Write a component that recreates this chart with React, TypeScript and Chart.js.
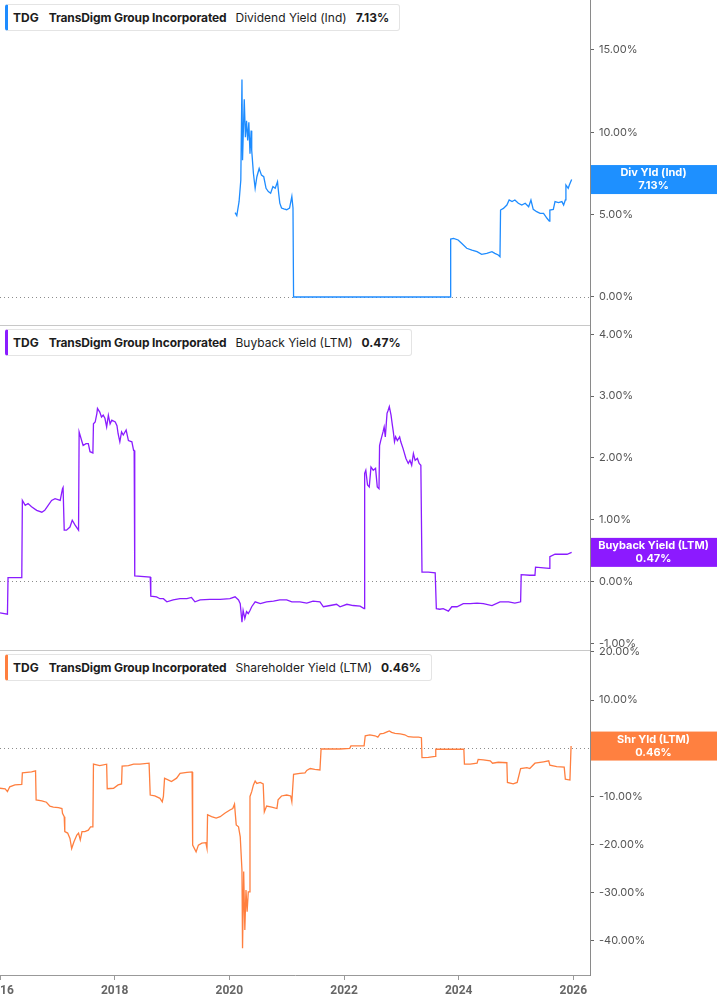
import { useEffect, useRef } from "react";
import { Chart, registerables } from "chart.js";

Chart.register(...registerables);

// decimal years on the x axis
const divDates = [
  2020.10, 2020.13, 2020.17, 2020.20, 2020.22, 2020.23, 2020.26, 2020.28, 2020.30, 2020.32,
  2020.34, 2020.36, 2020.38, 2020.39, 2020.42, 2020.45, 2020.48, 2020.52, 2020.56, 2020.60,
  2020.64, 2020.68, 2020.72, 2020.76, 2020.80, 2020.84, 2020.86, 2020.88, 2020.91, 2020.95,
  2021.00, 2021.05, 2021.09, 2021.11, 2021.12, 2023.85, 2023.86, 2023.91, 2023.99, 2024.05,
  2024.14, 2024.23, 2024.32, 2024.40, 2024.49, 2024.58, 2024.63, 2024.69, 2024.72, 2024.73,
  2024.78, 2024.84, 2024.88, 2024.93, 2024.98, 2025.04, 2025.10, 2025.16, 2025.22, 2025.26,
  2025.30, 2025.36, 2025.42, 2025.48, 2025.54, 2025.58, 2025.59, 2025.65, 2025.68, 2025.74,
  2025.80, 2025.83, 2025.86, 2025.87, 2025.91, 2025.93, 2025.97,
];
const divValues = [
  5.12, 4.94, 5.8, 7.1, 13.2, 8.3, 12.0, 9.7, 10.7, 9.5,
  10.6, 8.7, 10.1, 8.9, 7.5, 6.6, 7.3, 7.8, 7.4, 7.3,
  6.6, 6.4, 6.3, 6.7, 6.6, 7.0, 6.3, 5.7, 5.4, 5.35,
  5.3, 5.4, 6.1, 5.4, 0, 0, 3.52, 3.56, 3.46, 3.26,
  2.96, 2.85, 2.75, 2.59, 2.65, 2.75, 2.65, 2.55, 2.45, 5.28,
  5.38, 5.58, 5.89, 5.79, 5.89, 5.69, 5.58, 5.69, 5.48, 5.89,
  5.32, 5.18, 5.08, 5.08, 4.78, 4.61, 5.28, 5.32, 5.79, 5.73,
  5.79, 5.58, 5.89, 6.8, 6.6, 6.8, 7.13,
];

const buybackDates = [
  2016.00, 2016.13, 2016.14, 2016.38, 2016.39, 2016.44, 2016.49, 2016.55, 2016.64, 2016.73,
  2016.78, 2016.84, 2016.90, 2016.96, 2017.05, 2017.09, 2017.10, 2017.12, 2017.16, 2017.22,
  2017.26, 2017.31, 2017.37, 2017.38, 2017.43, 2017.45, 2017.50, 2017.54, 2017.57, 2017.62,
  2017.63, 2017.66, 2017.69, 2017.70, 2017.74, 2017.77, 2017.80, 2017.83, 2017.86, 2017.89,
  2017.92, 2017.95, 2018.01, 2018.04, 2018.06, 2018.09, 2018.12, 2018.15, 2018.20, 2018.24,
  2018.30, 2018.33, 2018.34, 2018.35, 2018.62, 2018.63, 2018.73, 2018.79, 2018.85, 2018.91,
  2019.02, 2019.14, 2019.26, 2019.34, 2019.40, 2019.49, 2019.66, 2019.84, 2020.01, 2020.10,
  2020.16, 2020.19, 2020.22, 2020.24, 2020.27, 2020.30, 2020.33, 2020.36, 2020.39, 2020.45,
  2020.54, 2020.65, 2020.77, 2020.88, 2021.00, 2021.09, 2021.23, 2021.35, 2021.46, 2021.58,
  2021.64, 2021.76, 2021.87, 2021.93, 2022.05, 2022.16, 2022.28, 2022.35, 2022.36, 2022.38,
  2022.41, 2022.44, 2022.47, 2022.51, 2022.55, 2022.58, 2022.61, 2022.62, 2022.64, 2022.68,
  2022.70, 2022.72, 2022.75, 2022.77, 2022.79, 2022.82, 2022.84, 2022.86, 2022.88, 2022.90,
  2022.93, 2022.97, 2022.99, 2023.03, 2023.08, 2023.12, 2023.15, 2023.18, 2023.21, 2023.24,
  2023.28, 2023.31, 2023.34, 2023.36, 2023.47, 2023.59, 2023.61, 2023.67, 2023.73, 2023.82,
  2023.88, 2023.97, 2024.08, 2024.20, 2024.32, 2024.43, 2024.58, 2024.72, 2024.87, 2024.98,
  2025.08, 2025.09, 2025.24, 2025.33, 2025.34, 2025.48, 2025.58, 2025.59, 2025.68, 2025.80,
  2025.89, 2025.97,
];
const buybackValues = [
  -0.51, -0.53, 0.06, 0.06, 1.31, 1.23, 1.26, 1.21, 1.15, 1.12,
  1.15, 1.23, 1.31, 1.34, 1.31, 1.50, 1.52, 0.83, 0.83, 0.88,
  0.99, 0.91, 0.83, 2.42, 2.26, 2.20, 2.23, 2.23, 2.10, 2.08,
  2.55, 2.58, 2.72, 2.80, 2.74, 2.66, 2.69, 2.64, 2.50, 2.69,
  2.55, 2.61, 2.58, 2.52, 2.39, 2.26, 2.42, 2.37, 2.45, 2.28,
  2.26, 2.12, 2.12, 0.09, 0.07, -0.24, -0.25, -0.28, -0.28, -0.33,
  -0.30, -0.28, -0.28, -0.26, -0.33, -0.30, -0.29, -0.29, -0.28, -0.25,
  -0.30, -0.36, -0.66, -0.47, -0.60, -0.49, -0.52, -0.47, -0.41, -0.33,
  -0.36, -0.33, -0.32, -0.30, -0.30, -0.33, -0.33, -0.35, -0.32, -0.33,
  -0.41, -0.39, -0.37, -0.41, -0.37, -0.39, -0.40, -0.44, 1.75, 1.80,
  1.56, 1.53, 1.85, 1.80, 1.83, 1.53, 1.50, 2.20, 2.28, 2.42,
  2.50, 2.34, 2.72, 2.77, 2.83, 2.69, 2.55, 2.42, 2.26, 2.34,
  2.28, 2.34, 2.26, 2.15, 1.99, 1.91, 1.96, 1.88, 2.07, 1.96,
  1.99, 1.91, 1.88, 0.15, 0.15, 0.14, -0.44, -0.45, -0.44, -0.48,
  -0.41, -0.41, -0.36, -0.36, -0.35, -0.36, -0.39, -0.33, -0.33, -0.35,
  -0.33, 0.11, 0.10, 0.10, 0.23, 0.22, 0.21, 0.40, 0.44, 0.44,
  0.44, 0.47,
];

const shrDates = [
  2016.00, 2016.09, 2016.13, 2016.17, 2016.26, 2016.38, 2016.39, 2016.47, 2016.55, 2016.62,
  2016.63, 2016.73, 2016.81, 2016.87, 2016.93, 2017.02, 2017.08, 2017.09, 2017.12, 2017.13,
  2017.18, 2017.22, 2017.25, 2017.29, 2017.34, 2017.37, 2017.40, 2017.43, 2017.48, 2017.54,
  2017.58, 2017.62, 2017.63, 2017.74, 2017.86, 2017.87, 2017.98, 2018.06, 2018.12, 2018.13,
  2018.24, 2018.33, 2018.44, 2018.60, 2018.62, 2018.70, 2018.79, 2018.83, 2018.85, 2018.87,
  2018.94, 2018.99, 2019.08, 2019.14, 2019.26, 2019.35, 2019.36, 2019.42, 2019.46, 2019.52,
  2019.59, 2019.61, 2019.62, 2019.69, 2019.77, 2019.84, 2019.92, 2020.01, 2020.06, 2020.09,
  2020.12, 2020.16, 2020.19, 2020.22, 2020.23, 2020.25, 2020.27, 2020.29, 2020.31, 2020.33,
  2020.35, 2020.36, 2020.39, 2020.42, 2020.45, 2020.48, 2020.54, 2020.59, 2020.61, 2020.65,
  2020.74, 2020.83, 2020.85, 2020.91, 2021.00, 2021.07, 2021.09, 2021.12, 2021.23, 2021.32,
  2021.35, 2021.41, 2021.49, 2021.58, 2021.60, 2021.93, 2022.10, 2022.12, 2022.35, 2022.37,
  2022.45, 2022.54, 2022.59, 2022.63, 2022.69, 2022.75, 2022.79, 2022.83, 2022.89, 2022.98,
  2023.06, 2023.12, 2023.21, 2023.30, 2023.35, 2023.36, 2023.47, 2023.59, 2023.60, 2023.79,
  2024.09, 2024.10, 2024.20, 2024.32, 2024.34, 2024.43, 2024.55, 2024.59, 2024.69, 2024.84,
  2024.85, 2024.95, 2025.02, 2025.08, 2025.19, 2025.24, 2025.33, 2025.48, 2025.57, 2025.59,
  2025.71, 2025.84, 2025.86, 2025.94, 2025.96,
];
const shrValues = [
  -8.3, -8.4, -9.0, -8.0, -7.6, -7.5, -5.1, -5.0, -4.9, -4.7,
  -10.7, -10.9, -11.2, -12.0, -12.2, -12.3, -12.5, -13.5, -14.2, -17.3,
  -17.6, -18.7, -20.8, -19.4, -18.0, -17.6, -19.0, -17.3, -17.3, -17.0,
  -16.3, -16.3, -3.3, -3.6, -3.3, -8.4, -8.3, -7.6, -7.4, -3.7,
  -3.6, -3.3, -3.3, -3.1, -9.7, -9.9, -10.4, -11.1, -10.0, -6.2,
  -6.6, -6.9, -6.2, -5.2, -5.0, -4.9, -20.1, -21.5, -20.1, -19.7,
  -19.6, -20.8, -13.8, -14.2, -14.5, -14.2, -13.5, -12.8, -12.5, -11.6,
  -15.9, -16.3, -18.4, -25.3, -41.5, -25.6, -37.7, -29.4, -33.9, -29.8,
  -29.8, -10.0, -9.0, -7.6, -6.8, -7.3, -7.1, -7.4, -13.2, -12.0,
  -12.2, -12.5, -10.7, -9.9, -9.7, -9.9, -11.1, -5.4, -5.2, -5.1,
  -4.6, -4.2, -4.4, -4.5, -0.15, -0.15, 0.0, 0.5, 0.5, 2.6,
  2.8, 2.6, 2.3, 3.0, 3.1, 3.4, 3.6, 3.3, 3.1, 3.0,
  2.8, 2.4, 2.3, 2.3, 2.2, -1.95, -1.9, -1.7, -0.2, -0.2,
  -0.2, -3.3, -3.3, -3.1, -2.3, -2.4, -2.6, -3.1, -2.9, -3.0,
  -7.1, -7.4, -7.1, -4.2, -4.0, -4.2, -3.1, -2.8, -2.6, -3.5,
  -3.8, -3.9, -6.4, -6.6, 0.46,
];

const xTicks = [2016, 2018, 2020, 2022, 2024, 2026];
const divTicks = [0, 5, 10, 15];
const buybackTicks = [-1, 0, 1, 2, 3, 4];
const shrTicks = [-40, -30, -20, -10, 0, 10, 20];

const ticker = "TDG";
const company = "TransDigm Group Incorporated";
const panels = [
  { id: "y1", name: "Dividend Yield (Ind)", short: "Div Yld (Ind)", color: "#1e8cff", box: "#1e90ff", dates: divDates, values: divValues },
  { id: "y2", name: "Buyback Yield (LTM)", short: "Buyback Yield (LTM)", color: "#8a1cff", box: "#8c1aff", dates: buybackDates, values: buybackValues },
  { id: "y3", name: "Shareholder Yield (LTM)", short: "Shr Yld (LTM)", color: "#ff7f3f", box: "#ff8040", dates: shrDates, values: shrValues },
];

const pct = (v: number) => v.toFixed(2) + "%";
const last = (a: number[]) => a[a.length - 1];

function yScale(ticks: number[], min: number, max: number) {
  return {
    type: "linear",
    position: "right",
    stack: "panels",
    stackWeight: 1,
    min,
    max,
    afterBuildTicks: (s: any) => {
      s.ticks = ticks.map((v) => ({ value: v }));
    },
    afterFit: (s: any) => {
      s.width = 127;
      s.paddingTop = 0;
      s.paddingBottom = 0;
    },
    grid: { drawOnChartArea: false, tickLength: 4, tickColor: "#666" },
    border: { color: "#8a8a8a" },
    ticks: {
      autoSkip: false,
      padding: 5,
      color: "#555",
      font: { family: "Inter", size: 11 },
      callback: (v: number) => pct(v),
    },
  };
}

const panelDecor = {
  id: "panelDecor",
  beforeDatasetsDraw(chart: any) {
    const { ctx, chartArea } = chart;
    ctx.save();
    panels.forEach((p, i) => {
      const s = chart.scales[p.id];
      const y0 = Math.round(s.getPixelForValue(0)) + 0.5;
      ctx.setLineDash([1, 3]);
      ctx.strokeStyle = "#8c8c8c";
      ctx.lineWidth = 1;
      ctx.beginPath();
      ctx.moveTo(chartArea.left, y0);
      ctx.lineTo(chartArea.right, y0);
      ctx.stroke();
      if (i < panels.length - 1) {
        const yb = Math.round(s.bottom) + 0.5;
        ctx.setLineDash([]);
        ctx.strokeStyle = "#c8c8c8";
        ctx.beginPath();
        ctx.moveTo(chartArea.left, yb);
        ctx.lineTo(chartArea.right, yb);
        ctx.stroke();
      }
    });
    ctx.restore();
  },
  afterDraw(chart: any) {
    const { ctx, chartArea, width } = chart;
    ctx.save();
    panels.forEach((p) => {
      const s = chart.scales[p.id];
      const v = last(p.values);
      const yc = s.getPixelForValue(v);
      const h = 29;
      ctx.fillStyle = p.box;
      ctx.fillRect(chartArea.right + 1, yc - h / 2, width - chartArea.right - 1, h);
      ctx.fillStyle = "#fff";
      ctx.font = "bold 11px Inter";
      ctx.textAlign = "center";
      ctx.textBaseline = "middle";
      const cx = (chartArea.right + width) / 2;
      ctx.fillText(p.short, cx, yc - 6.5);
      ctx.fillText(pct(v), cx, yc + 6.5);
    });
    ctx.restore();
  },
};

function Legend({ top, color, name, value }: { top: number; color: string; name: string; value: number }) {
  return (
    <div
      style={{
        position: "absolute",
        left: 5,
        top,
        height: 25,
        boxSizing: "content-box",
        display: "flex",
        alignItems: "center",
        background: "#fff",
        border: "1px solid #e4e4e4",
        borderLeft: `3px solid ${color}`,
        borderRadius: 3,
        padding: "0 10px 0 5px",
        fontFamily: "Inter",
        fontSize: 12,
        color: "#1c1c1c",
        whiteSpace: "nowrap",
      }}
    >
      <span style={{ fontWeight: 700, marginRight: 10 }}>{ticker}</span>
      <span style={{ fontWeight: 700, marginRight: 9, letterSpacing: -0.12 }}>{company}</span>
      <span style={{ marginRight: 9 }}>{name}</span>
      <span style={{ fontWeight: 700 }}>{pct(value)}</span>
    </div>
  );
}

export default function App() {
  const canvasRef = useRef<HTMLCanvasElement | null>(null);
  const chartRef = useRef<Chart | null>(null);

  useEffect(() => {
    if (!canvasRef.current) return;
    if (chartRef.current) chartRef.current.destroy();
    chartRef.current = new Chart(canvasRef.current, {
      type: "line",
      data: {
        datasets: panels.map((p) => ({
          label: p.name,
          data: p.dates.map((d, i) => ({ x: d, y: p.values[i] })),
          yAxisID: p.id,
          xAxisID: "x",
          borderColor: p.color,
          borderWidth: 1.3,
          pointRadius: 0,
          tension: 0,
          fill: false,
        })),
      },
      options: {
        animation: false,
        responsive: false,
        events: [],
        layout: { padding: 0 },
        plugins: { legend: { display: false }, tooltip: { enabled: false } },
        scales: {
          x: {
            type: "linear",
            position: "bottom",
            min: 2016,
            max: 2026.29,
            afterBuildTicks: (s: any) => {
              s.ticks = xTicks.map((v) => ({ value: v }));
            },
            afterFit: (s: any) => {
              s.height = 30;
              s.paddingLeft = 0;
              s.paddingRight = 0;
            },
            grid: { drawOnChartArea: false, tickLength: 5, tickColor: "#999" },
            border: { color: "#999" },
            ticks: {
              autoSkip: false,
              maxRotation: 0,
              padding: 4,
              color: "#666",
              font: { family: "Roboto", size: 12, weight: "bold" },
              callback: (v: number) => String(v),
            },
          },
          y1: yScale(divTicks, -1.7, 18.03),
          y2: yScale(buybackTicks, -1.11, 4.15),
          y3: yScale(shrTicks, -47.06, 20.4),
        } as any,
      },
      plugins: [panelDecor],
    });
    return () => {
      if (chartRef.current) {
        chartRef.current.destroy();
        chartRef.current = null;
      }
    };
  }, []);

  return (
    <div style={{ position: "absolute", left: 0, top: 0, width: 717, height: 1005, background: "#fff" }}>
      <canvas ref={canvasRef} width={717} height={1005} style={{ display: "block" }} />
      <Legend top={4} color={panels[0].color} name={panels[0].name} value={last(divValues)} />
      <Legend top={329} color={panels[1].color} name={panels[1].name} value={last(buybackValues)} />
      <Legend top={654} color={panels[2].color} name={panels[2].name} value={last(shrValues)} />
    </div>
  );
}
